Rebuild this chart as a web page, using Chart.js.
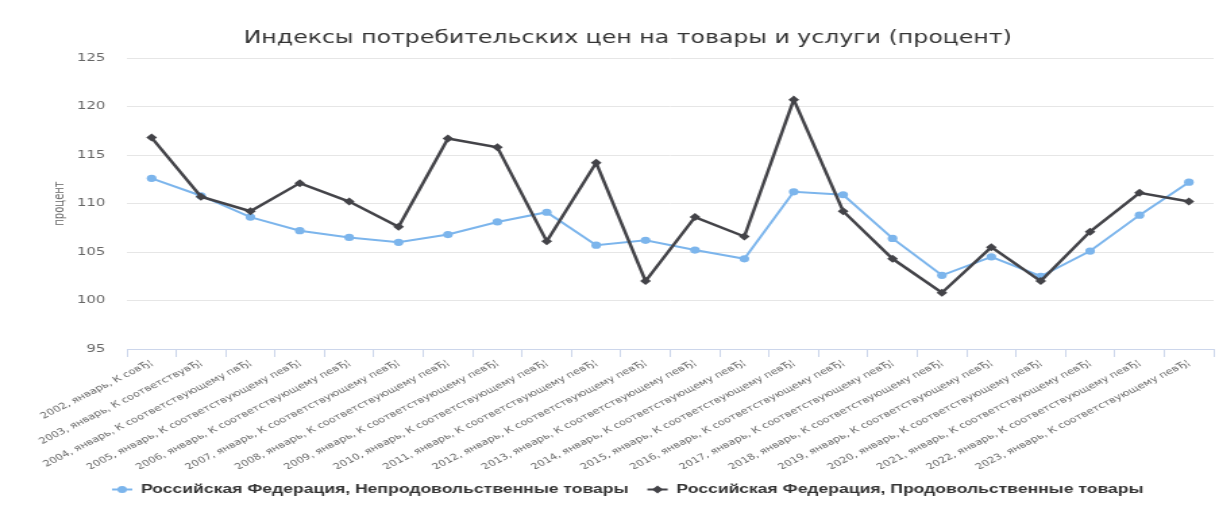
<!DOCTYPE html>
<html>
<head>
<meta charset="utf-8">
<script src="https://cdn.jsdelivr.net/npm/chart.js@4/dist/chart.umd.min.js"></script>
<style>
html,body{margin:0;padding:0;background:#fff;overflow:hidden;}
#c{display:block;width:1219px;height:511px;}
</style>
</head>
<body>
<canvas id="c" width="903" height="511" style="width:1219px;height:511px"></canvas>
<script>
const years = ["2002","2003","2004","2005","2006","2007","2008","2009","2010","2011","2012","2013","2014","2015","2016","2017","2018","2019","2020","2021","2022","2023"];
const labelTails = ["К со\u0432\u0402\u00a6","К соответству\u0432\u0402\u00a6","К соответствующему п\u0432\u0402\u00a6"];
const defaultTail = "К соответствующему пе\u0432\u0402\u00a6";
const categories = years.map((y,i) => y + ", январь, " + (labelTails[i] || defaultTail));

const nonFood = [112.6,110.8,108.6,107.2,106.5,106.0,106.8,108.1,109.1,105.7,106.2,105.2,104.3,111.2,110.9,106.4,102.6,104.5,102.5,105.1,108.8,112.2];
const food    = [116.8,110.7,109.2,112.1,110.2,107.6,116.7,115.8,106.1,114.2,102.0,108.6,106.6,120.7,109.2,104.3,100.8,105.5,102.0,107.1,111.1,110.2];

const seriesNames = ["Российская Федерация, Непродовольственные товары","Российская Федерация, Продовольственные товары"];
const yTicks = {min:95, max:125, step:5};

const BLUE = "#7cb5ec", DARK = "#434348";

const legendMarkers = {
  id: "legendMarkers",
  afterDraw(chart){
    const lg = chart.legend;
    if(!lg || !lg.legendHitBoxes) return;
    const ctx = chart.ctx;
    const bw = lg.options.labels.boxWidth;
    lg.legendItems.forEach((it, i) => {
      const hb = lg.legendHitBoxes[i];
      const ds = chart.data.datasets[it.datasetIndex];
      const cy = hb.top + hb.height/2;
      const x0 = hb.left, cx = hb.left + bw/2;
      ctx.save();
      ctx.strokeStyle = ds.borderColor;
      ctx.lineWidth = 2;
      ctx.beginPath(); ctx.moveTo(x0, cy); ctx.lineTo(x0 + bw, cy); ctx.stroke();
      ctx.fillStyle = ds.borderColor;
      ctx.beginPath();
      if(ds.pointStyle === "rectRot"){
        const r = 4;
        ctx.moveTo(cx, cy - r); ctx.lineTo(cx + r, cy); ctx.lineTo(cx, cy + r); ctx.lineTo(cx - r, cy); ctx.closePath();
      } else {
        ctx.arc(cx, cy, 3.5, 0, Math.PI*2);
      }
      ctx.fill();
      ctx.restore();
    });
  }
};

new Chart(document.getElementById("c"), {
  type: "line",
  data: {
    labels: categories,
    datasets: [
      {label: seriesNames[0], data: nonFood, borderColor: BLUE, backgroundColor: BLUE, borderWidth: 2,
       pointStyle: "circle", pointRadius: 3.6, pointBackgroundColor: BLUE, pointBorderWidth: 0, tension: 0, order: 1},
      {label: seriesNames[1], data: food, borderColor: DARK, backgroundColor: DARK, borderWidth: 2.5,
       pointStyle: "rectRot", pointRadius: 4, pointBackgroundColor: DARK, pointBorderWidth: 0, tension: 0, order: 0}
    ]
  },
  options: {
    responsive: false,
    animation: false,
    devicePixelRatio: 1,
    layout: {padding: {left: 28, right: 1, top: 0, bottom: 5}},
    plugins: {
      tooltip: {enabled: false},
      title: {
        display: true,
        text: "Индексы потребительских цен на товары и услуги (процент)",
        color: "#333333",
        font: {family: "DejaVu Sans", size: 17.5, weight: "normal"},
        padding: {top: 28, bottom: 9}
      },
      legend: {
        position: "bottom",
        labels: {
          color: "#333333",
          font: {family: "Liberation Sans", size: 13, weight: "bold"},
          boxWidth: 15, boxHeight: 10, padding: 14,
          sort: (a,b) => a.datasetIndex - b.datasetIndex,
          generateLabels(chart){
            return chart.data.datasets.map((ds,i) => ({
              text: ds.label, datasetIndex: i,
              fillStyle: "rgba(0,0,0,0)", strokeStyle: "rgba(0,0,0,0)", lineWidth: 0,
              fontColor: "#333333", hidden: false
            }));
          }
        }
      }
    },
    scales: {
      x: {
        offset: true,
        afterFit(scale){ scale.height = 120; },
        grid: {offset: true, drawOnChartArea: false, drawTicks: true, tickLength: 8, color: "#ccd6eb"},
        border: {display: true, color: "#ccd6eb"},
        ticks: {color: "#666666", font: {family: "DejaVu Sans", size: 8.6}, minRotation: 34, maxRotation: 34, autoSkip: false, padding: 1}
      },
      y: {
        min: yTicks.min, max: yTicks.max,
        afterFit(scale){ scale.width = 66; },
        grid: {color: "#e6e6e6", drawTicks: false},
        border: {display: false},
        ticks: {stepSize: yTicks.step, color: "#666666", font: {family: "DejaVu Sans", size: 11}, padding: 16},
        title: {display: true, text: "процент", color: "#666666", font: {family: "DejaVu Sans", size: 10}, padding: {top: 10, bottom: 6}}
      }
    }
  },
  plugins: [legendMarkers]
});
</script>
</body>
</html>
